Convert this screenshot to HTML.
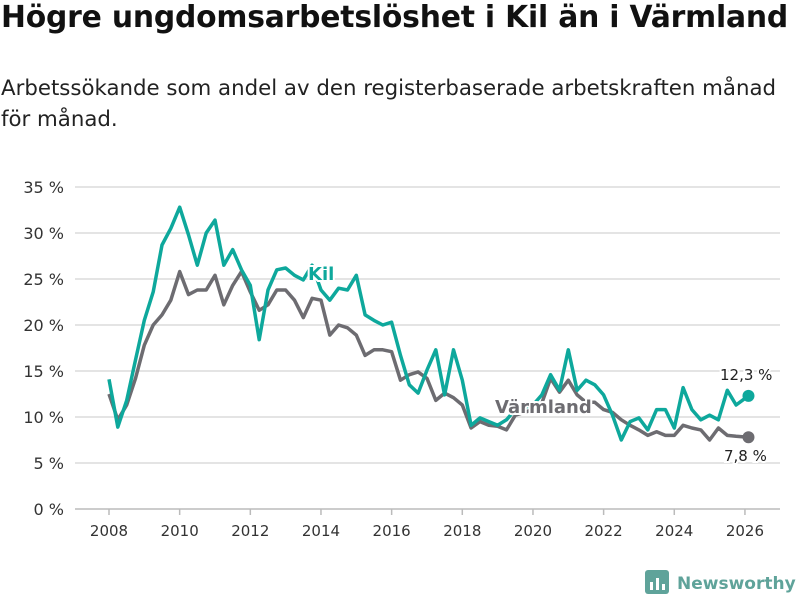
<!DOCTYPE html>
<html><head><meta charset="utf-8"><style>
body{margin:0;width:800px;height:600px;background:#fff;font-family:"Liberation Sans",sans-serif;overflow:hidden;position:relative}
#t{position:absolute;left:1px;top:0px;font-family:"DejaVu Sans",sans-serif;font-size:29.8px;font-weight:bold;color:#111;white-space:nowrap;letter-spacing:-0.2px}
#s{position:absolute;left:1px;top:73px;font-family:"DejaVu Sans",sans-serif;font-size:21.3px;color:#222;line-height:31px;width:795px;white-space:nowrap}
svg{position:absolute;left:0;top:0}
</style></head><body>
<div id="t">Högre ungdomsarbetslöshet i Kil än i Värmland</div>
<div id="s">Arbetssökande som andel av den registerbaserade arbetskraften månad<br>för månad.</div>
<svg id="c" width="800" height="600"></svg>
<script>
const years=[2008,2008.25,2008.5,2008.75,2009,2009.25,2009.5,2009.75,2010,2010.25,2010.5,2010.75,2011,2011.25,2011.5,2011.75,2012,2012.25,2012.5,2012.75,2013,2013.25,2013.5,2013.75,2014,2014.25,2014.5,2014.75,2015,2015.25,2015.5,2015.75,2016,2016.25,2016.5,2016.75,2017,2017.25,2017.5,2017.75,2018,2018.25,2018.5,2018.75,2019,2019.25,2019.5,2020,2020.25,2020.5,2020.75,2021,2021.25,2021.5,2021.75,2022,2022.25,2022.5,2022.75,2023,2023.25,2023.5,2023.75,2024,2024.25,2024.5,2024.75,2025,2025.25,2025.5,2025.75,2026.1];
const kil=[14.1,8.9,11.8,16.2,20.5,23.6,28.7,30.5,32.8,29.8,26.5,30,31.4,26.5,28.2,26,24.3,18.4,23.8,26,26.2,25.4,24.9,26.5,23.8,22.7,24,23.8,25.4,21.1,20.5,20,20.3,16.7,13.5,12.6,15.1,17.3,12.4,17.3,14,9.1,9.9,9.5,9.1,9.7,10.8,11.3,12.4,14.6,12.9,17.3,12.9,14,13.5,12.4,10.2,7.5,9.5,9.9,8.6,10.8,10.8,8.8,13.2,10.8,9.7,10.2,9.7,12.9,11.3,12.3];
const varm=[12.5,9.7,11.3,14.2,17.8,20,21.1,22.7,25.8,23.3,23.8,23.8,25.4,22.2,24.3,25.8,23.6,21.6,22.2,23.8,23.8,22.7,20.8,22.9,22.7,18.9,20,19.7,18.9,16.7,17.3,17.3,17.1,14,14.6,14.9,14.2,11.8,12.6,12.1,11.3,8.8,9.5,9.1,9,8.6,10.2,10.8,11.5,14.2,12.7,14,12.4,11.6,11.6,10.8,10.5,9.7,9.1,8.6,8,8.4,8,8,9.1,8.8,8.6,7.5,8.8,8,7.9,7.8];
const yTicks=[0,5,10,15,20,25,30,35];
const xTicks=[2008,2010,2012,2014,2016,2018,2020,2022,2024,2026];
const X=v=>109+(v-2008)*35.33, Y=v=>509-v*9.2;
const svg=document.getElementById('c'),NS='http://www.w3.org/2000/svg';
function mk(tag,a,txt){const e=document.createElementNS(NS,tag);for(const k in a)e.setAttribute(k,a[k]);if(txt!=null)e.textContent=txt;svg.appendChild(e);return e;}
yTicks.forEach(v=>{
 const l=mk('line',{x1:75,x2:780,y1:Y(v),y2:Y(v),stroke:v?'#dcdcdc':'#bbb','stroke-width':1.5});
 
 
 const t=mk('text',{x:64,y:Y(v)+6,'text-anchor':'end','font-size':16,fill:'#333','font-family':'DejaVu Sans, sans-serif'},v+' %');
 
 
});
xTicks.forEach(v=>{
 const l=mk('line',{x1:X(v),x2:X(v),y1:509,y2:515,stroke:'#bbb','stroke-width':1.5});
 
 
 const t=mk('text',{x:X(v),y:536,'text-anchor':'middle','font-size':15,fill:'#333','font-family':'DejaVu Sans, sans-serif'},v);
 
 
});
function line(d,col,name){
 const p=mk('path',{d:d.map((v,i)=>(i?'L':'M')+X(years[i]).toFixed(1)+','+Y(v).toFixed(1)).join(''),fill:'none',stroke:col,'stroke-width':3.5,'stroke-linejoin':'round'});
 
 
 const c=mk('circle',{cx:X(years[years.length-1]),cy:Y(d[d.length-1]),r:6,fill:col});
 
 
}
line(varm,'#6d6c71','series-varmland');
line(kil,'#0ea89c','series-kil');
function lab(x,y,txt,col,name,size,bold){
 const t=mk('text',{x:x,y:y,'font-size':size,'font-weight':bold?'bold':'normal',fill:col,stroke:'#fff','stroke-width':4,'paint-order':'stroke','font-family':'DejaVu Sans, sans-serif'},txt);
 
 
}
lab(308,280,'Kil','#0ea89c','label-kil',18,true);
lab(495,413,'Värmland','#6d6c71','label-varmland',18,true);
lab(720,380,'12,3 %','#222','value-label-kil',15,false);
lab(724,461,'7,8 %','#222','value-label-varmland',15,false);
const g=mk('g',{});


g.innerHTML='<rect x="645" y="570" width="24" height="24" rx="3" fill="#5fa39a"/><rect x="650" y="582" width="3" height="8" fill="#fff"/><rect x="656" y="578" width="3" height="12" fill="#fff"/><rect x="662" y="584" width="3" height="6" fill="#fff"/><text x="677" y="589" font-size="17" font-weight="bold" fill="#5fa39a" font-family="DejaVu Sans, sans-serif">Newsworthy</text>';
</script>
</body></html>
